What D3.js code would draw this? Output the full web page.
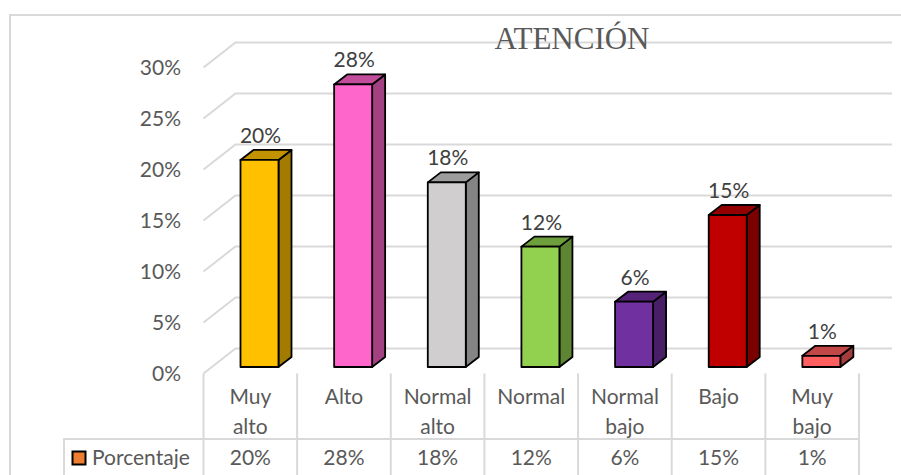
<!DOCTYPE html>
<html>
<head>
<meta charset="utf-8">
<script src="https://cdn.jsdelivr.net/npm/d3@7"></script>
<style>
  html, body { margin: 0; padding: 0; background: #fff; overflow: hidden; }
  text { font-family: Lato, "Open Sans", sans-serif; }
</style>
</head>
<body>
<div id="chart"></div>
<script>
// values
var categories = ["Muy alto", "Alto", "Normal alto", "Normal", "Normal bajo", "Bajo", "Muy bajo"];
var values = [20.3, 27.7, 18.1, 11.8, 6.4, 14.9, 1.1];
var tableLabels = ["20%", "28%", "18%", "12%", "6%", "15%", "1%"];
var yTicks = [0, 5, 10, 15, 20, 25, 30];
var barColors = ["#ffc000", "#ff66cc", "#d0cece", "#92d050", "#7030a0", "#c00000", "#ff5f5f"];
var seriesName = "Porcentaje";
var title = "ATENCIÓN";

var width = 901, height = 475;
var gridColor = "#d9d9d9", textColor = "#595959";

var svg = d3.select("#chart").append("svg")
    .attr("width", width)
    .attr("height", height)
    .style("display", "block");

var x = d3.scaleBand().domain(categories).range([203.5, 859]);
var y = d3.scaleLinear().domain([0, 30]).range([373.5, 67.5]);

// depth of the back wall, and of the bars
var wallDx = 32, wallDy = -25, wallRight = 892;
var barOffset = 37, barWidth = 38, barLift = 6.5, depthX = 13, depthY = -10;

function shade(color, k) {
  var c = d3.rgb(color);
  return d3.rgb(c.r * k, c.g * k, c.b * k).formatHex();
}

// outer frame, cut by the picture edge
svg.append("path")
    .attr("d", "M10,475V15H901")
    .attr("fill", "none")
    .attr("stroke", gridColor)
    .attr("stroke-width", 2);

// gridlines: short slanted piece on the side wall, then along the back wall
svg.append("g").selectAll("path")
  .data(yTicks)
  .enter().append("path")
    .attr("fill", "none")
    .attr("stroke", gridColor)
    .attr("stroke-width", 2)
    .attr("d", function(d) {
      return "M203.5," + y(d) + "L" + (203.5 + wallDx) + "," + (y(d) + wallDy) + "H" + wallRight;
    });

// y axis labels
var yAxis = svg.append("g")
    .attr("transform", "translate(181,0)")
    .call(d3.axisLeft(y).tickValues(yTicks).tickSize(0).tickPadding(0).tickFormat(function(d) { return d + "%"; }));
yAxis.select(".domain").remove();
yAxis.selectAll("text")
    .attr("fill", textColor)
    .style("font-size", "21px")
    .style("font-family", "Lato, sans-serif");

svg.append("text")
    .attr("x", 572)
    .attr("y", 49)
    .attr("text-anchor", "middle")
    .attr("fill", textColor)
    .style("font-family", "'Liberation Serif', serif")
    .style("font-size", "31px")
    .text(title);

// bars
var bars = svg.append("g").selectAll("g")
    .data(categories)
  .enter().append("g")
    .attr("stroke", "#000")
    .attr("stroke-width", 1.8)
    .attr("stroke-linejoin", "round");

function barLeft(d) { return x(d) + barOffset; }
function barTop(i) { return y(values[i]) - barLift; }
function barBottom() { return y(0) - barLift; }

bars.append("path") // side
    .attr("fill", function(d, i) { return shade(barColors[i], 0.64); })
    .attr("d", function(d, i) {
      var r = barLeft(d) + barWidth;
      return "M" + r + "," + barTop(i) + "l" + depthX + "," + depthY + "V" + (barBottom() + depthY) + "l" + (-depthX) + "," + (-depthY) + "Z";
    });
bars.append("path") // top
    .attr("fill", function(d, i) { return shade(barColors[i], 0.76); })
    .attr("d", function(d, i) {
      return "M" + barLeft(d) + "," + barTop(i) + "l" + depthX + "," + depthY + "h" + barWidth + "l" + (-depthX) + "," + (-depthY) + "Z";
    });
bars.append("rect") // front
    .attr("fill", function(d, i) { return barColors[i]; })
    .attr("x", barLeft)
    .attr("y", function(d, i) { return barTop(i); })
    .attr("width", barWidth)
    .attr("height", function(d, i) { return barBottom() - barTop(i); });

// data labels
svg.append("g").selectAll("text")
    .data(categories)
  .enter().append("text")
    .attr("x", function(d) { return barLeft(d) + barWidth / 2 + 1; })
    .attr("y", function(d, i) { return barTop(i) - 17; })
    .attr("text-anchor", "middle")
    .attr("fill", "#404040")
    .style("font-size", "21px")
    .text(function(d, i) { return tableLabels[i]; });

// data table lines
var tableTop = 439;
var cuts = categories.map(function(d) { return x(d); }).concat(859);
svg.append("g").selectAll("line")
    .data(cuts)
  .enter().append("line")
    .attr("x1", function(d) { return d; })
    .attr("x2", function(d) { return d; })
    .attr("y1", y(0))
    .attr("y2", height)
    .attr("stroke", gridColor)
    .attr("stroke-width", 2);
svg.append("path")
    .attr("d", "M64," + height + "V" + tableTop + "H859")
    .attr("fill", "none")
    .attr("stroke", gridColor)
    .attr("stroke-width", 2);

// category names, two lines where the column is too narrow
var catText = svg.append("g").selectAll("text")
    .data(categories)
  .enter().append("text")
    .attr("text-anchor", "middle")
    .attr("fill", textColor)
    .style("font-size", "21px");
catText.selectAll("tspan")
    .data(function(d) { return d === "Normal" ? [d] : d.split(" "); })
  .enter().append("tspan")
    .attr("x", function() { return x(d3.select(this.parentNode).datum()) + x.bandwidth() / 2; })
    .attr("y", function(d, i) { return 404 + i * 30; })
    .text(function(d) { return d; });

// table row
svg.append("g").selectAll("text")
    .data(categories)
  .enter().append("text")
    .attr("x", function(d) { return x(d) + x.bandwidth() / 2; })
    .attr("y", 465)
    .attr("text-anchor", "middle")
    .attr("fill", textColor)
    .style("font-size", "21px")
    .text(function(d, i) { return tableLabels[i]; });

svg.append("rect")
    .attr("x", 72.5)
    .attr("y", 451.5)
    .attr("width", 13)
    .attr("height", 13)
    .attr("fill", "#ed7d31")
    .attr("stroke", "#000")
    .attr("stroke-width", 2);
svg.append("text")
    .attr("x", 92)
    .attr("y", 465)
    .attr("fill", textColor)
    .style("font-size", "21px")
    .text(seriesName);
</script>
</body>
</html>
